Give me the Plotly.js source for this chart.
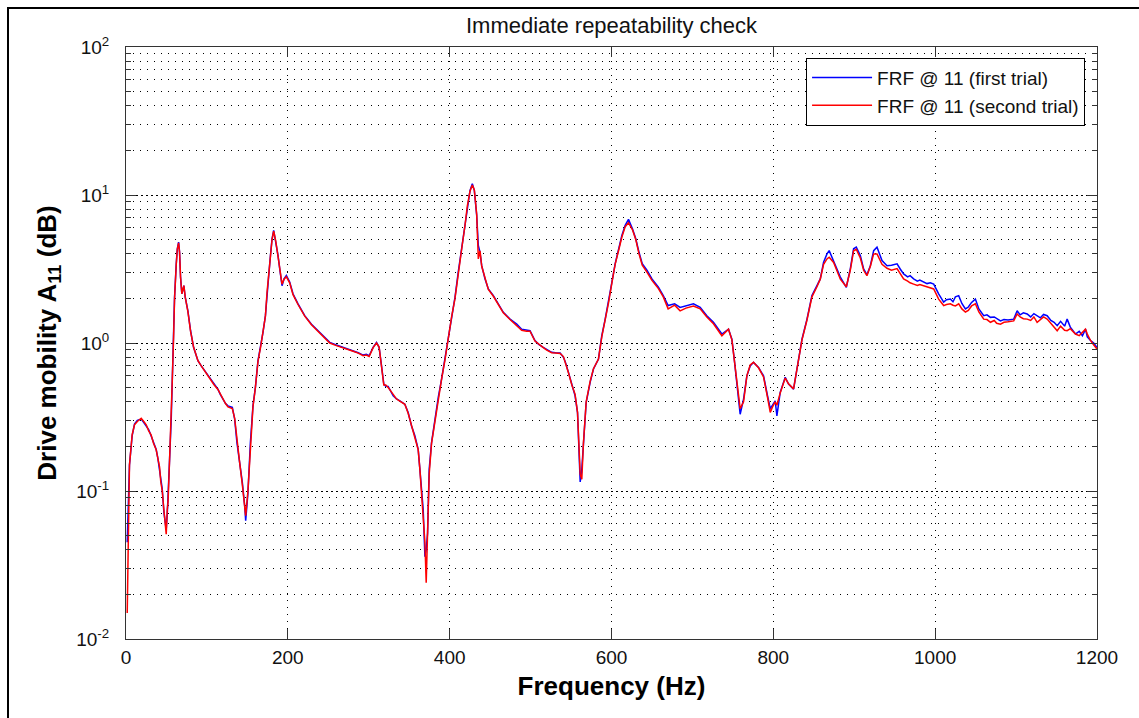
<!DOCTYPE html>
<html>
<head>
<meta charset="utf-8">
<script src="https://cdn.plot.ly/plotly-3.0.1.min.js"></script>
<style>
  html, body { margin: 0; padding: 0; background: #ffffff; }
  #wrap { position: relative; width: 1139px; height: 718px; overflow: hidden; }
  #chart { position: absolute; left: 0; top: 0; width: 1139px; height: 718px; }
  #frame { position: absolute; left: 7px; top: 7px; width: 1200px; height: 800px;
           border-left: 2px solid #000; border-top: 2px solid #000; pointer-events: none; }
</style>
</head>
<body>
<div id="wrap">
  <div id="chart"></div>
  <div id="frame"></div>
</div>
<script>
// Frequency points (Hz) of the measured drive-point FRF
const freqHz = [
  1.5, 4.3, 7.6, 10.5, 14, 18.8, 22, 25, 28, 31, 34, 37.3, 39.5, 41.5, 43, 44.8, 46.8, 48.3, 49.7, 51,
  52, 53.8, 55.9, 57.2, 58.8, 60, 62.1, 63.4, 65, 66.2, 67.4, 69, 71.5, 73.2, 76.5, 79.8, 83.5, 88.9, 93, 97.2,
  101, 105.4, 109, 113.6, 116.5, 119.8, 123, 126, 129, 131.4, 134.3, 137.1, 140.5, 143.8, 146.7, 147.9, 150.7, 153.7, 156.9, 159.9,
  163.1, 166.5, 169.3, 172.3, 174.3, 176.4, 178.5, 180.5, 182.5, 185, 187.9, 190, 192.8, 195.3, 198.2, 202.3, 206.4, 212.6, 220.9, 229.2,
  237.4, 245, 251.8, 260, 268.3, 275, 280.7, 287, 293, 297, 300.5, 305.4, 309.6, 312.8, 315.8, 318.6, 321, 324, 330.2, 334,
  338.4, 344.6, 348.7, 352.9, 357, 361.1, 363.2, 365.3, 367.3, 369.4, 371, 372.7, 374.7, 377.6, 381.8, 385.9, 390, 394.2, 398.3, 402.4,
  406.6, 410.6, 414.8, 418.9, 421.8, 425.1, 428, 430.5, 433.4, 435.4, 437.5, 439.6, 443.7, 447.8, 454, 460.2, 466.3, 474.6, 482.9, 489,
  495, 499.3, 505.4, 510, 515.7, 520, 526, 531, 536.5, 540.6, 543, 546.8, 551, 555, 558, 560, 561.3, 563.3, 565.3, 568.7,
  573.6, 577.7, 583.9, 588, 592.2, 596.3, 600.5, 604.5, 608.7, 612.8, 616.9, 621, 626, 630, 634, 638, 644, 650, 658, 664,
  670, 678, 684.8, 692, 701.3, 709.6, 717.8, 726, 736.4, 744.6, 748.8, 751.7, 755, 759, 763.2, 767.3, 771.4, 775.5, 781.7, 787.9,
  792.8, 796.2, 799, 802.3, 804.4, 808.5, 814.7, 818.8, 825, 829.2, 835.4, 841.6, 847.7, 853.9, 858, 862.1, 866.3, 869, 874.5, 882.8,
  890.2, 895.1, 899.2, 902.5, 907.5, 911.6, 915.7, 919.9, 924, 928.1, 934.3, 940.5, 946, 952.9, 957, 961, 966, 969, 973.4, 978,
  981, 985.8, 990, 994, 998.2, 1004.3, 1010.5, 1014, 1018.8, 1022, 1025, 1029.1, 1033, 1037.4, 1041, 1045, 1049.7, 1054, 1060, 1064,
  1068.3, 1073, 1076, 1080.7, 1085, 1090, 1097.1, 1101.3, 1105, 1109, 1113.7, 1118, 1122, 1126, 1130, 1134, 1138.4, 1143, 1147, 1150.8,
  1155, 1160, 1163.1, 1167, 1173.4, 1178, 1182, 1185.8, 1188, 1192, 1196, 1200
];

// Drive mobility A11, first trial
const firstTrial = [
  0.045, 0.15, 0.236, 0.283, 0.30, 0.306, 0.29, 0.276, 0.26, 0.236, 0.215, 0.191, 0.165, 0.14, 0.12, 0.103, 0.072, 0.06, 0.055, 0.07,
  0.09, 0.16, 0.306, 0.57, 1.09, 2.04, 3.43, 4.33, 4.8, 4.1, 2.79, 2.15, 2.44, 2.04, 1.65, 1.21, 0.935, 0.76, 0.70, 0.65,
  0.60, 0.556, 0.52, 0.488, 0.45, 0.418, 0.39, 0.376, 0.372, 0.367, 0.306, 0.212, 0.155, 0.114, 0.079, 0.063, 0.097, 0.212, 0.376, 0.501,
  0.76, 0.959, 1.18, 1.53, 2.2, 2.86, 3.9, 5.06, 5.76, 4.93, 3.9, 3.17, 2.44, 2.71, 2.86, 2.58, 2.15, 1.84, 1.53, 1.34,
  1.21, 1.1, 1.01, 0.97, 0.935, 0.91, 0.887, 0.86, 0.829, 0.84, 0.82, 0.935, 1.01, 0.935, 0.70, 0.528, 0.51, 0.509, 0.44, 0.42,
  0.407, 0.386, 0.339, 0.275, 0.236, 0.191, 0.14, 0.097, 0.075, 0.036, 0.04, 0.052, 0.14, 0.212, 0.306, 0.429, 0.57, 0.779, 1.12, 1.53,
  2.04, 3.01, 4.33, 6.23, 8.5, 10.7, 11.9, 10.7, 7.3, 4.56, 4.1, 3.33, 2.71, 2.32, 2.09, 1.84, 1.61, 1.45, 1.34, 1.24,
  1.22, 1.21, 1.04, 0.98, 0.935, 0.90, 0.865, 0.86, 0.856, 0.80, 0.74, 0.633, 0.514, 0.44, 0.339, 0.191, 0.115, 0.14, 0.212, 0.396,
  0.542, 0.667, 0.779, 1.12, 1.45, 1.89, 2.58, 3.43, 4.33, 5.32, 6.23, 6.84, 5.9, 5.06, 4.1, 3.43, 3.09, 2.71, 2.38, 2.09,
  1.79, 1.84, 1.74, 1.79, 1.84, 1.74, 1.53, 1.38, 1.15, 1.24, 1.06, 0.779, 0.514, 0.33, 0.418, 0.60, 0.70, 0.74, 0.684, 0.60,
  0.44, 0.36, 0.38, 0.407, 0.322, 0.464, 0.586, 0.528, 0.488, 0.667, 1.06, 1.45, 2.09, 2.44, 2.71, 3.51, 4.0, 4.21, 3.61, 2.79,
  2.38, 3.17, 4.33, 4.44, 3.9, 3.17, 2.89, 3.33, 4.21, 4.44, 3.61, 3.33, 3.35, 3.43, 3.15, 2.93, 2.8, 2.85, 2.71, 2.62,
  2.66, 2.58, 2.52, 2.55, 2.5, 2.15, 1.89, 1.96, 1.98, 1.9, 2.05, 2.09, 1.85, 1.7, 1.75, 1.88, 1.98, 1.7, 1.53, 1.55,
  1.49, 1.5, 1.46, 1.41, 1.44, 1.43, 1.45, 1.65, 1.55, 1.6, 1.57, 1.5, 1.58, 1.53, 1.48, 1.56, 1.53, 1.42, 1.38, 1.31,
  1.4, 1.3, 1.45, 1.28, 1.15, 1.2, 1.12, 1.24, 1.1, 1.04, 1.0, 0.93
];

// Drive mobility A11, second trial
const secondTrial = [
  0.015, 0.15, 0.24, 0.28, 0.295, 0.31, 0.295, 0.28, 0.255, 0.24, 0.21, 0.19, 0.165, 0.145, 0.115, 0.10, 0.075, 0.058, 0.051, 0.075,
  0.085, 0.16, 0.30, 0.56, 1.09, 2.0, 3.4, 4.3, 4.75, 4.1, 2.8, 2.15, 2.44, 2.04, 1.63, 1.2, 0.94, 0.76, 0.70, 0.645,
  0.60, 0.55, 0.52, 0.485, 0.45, 0.415, 0.39, 0.37, 0.365, 0.36, 0.31, 0.215, 0.155, 0.11, 0.08, 0.068, 0.10, 0.21, 0.37, 0.50,
  0.75, 0.95, 1.17, 1.52, 2.2, 2.85, 3.9, 5.0, 5.7, 4.9, 3.85, 3.1, 2.5, 2.7, 2.8, 2.55, 2.12, 1.82, 1.52, 1.33,
  1.2, 1.1, 1.0, 0.96, 0.93, 0.90, 0.88, 0.855, 0.82, 0.83, 0.81, 0.93, 1.0, 0.94, 0.70, 0.52, 0.52, 0.50, 0.45, 0.42,
  0.405, 0.385, 0.335, 0.275, 0.235, 0.19, 0.14, 0.095, 0.07, 0.045, 0.024, 0.05, 0.13, 0.21, 0.30, 0.43, 0.57, 0.77, 1.1, 1.5,
  2.0, 3.0, 4.3, 6.2, 8.4, 10.6, 11.7, 10.8, 7.4, 3.7, 4.2, 3.3, 2.7, 2.3, 2.07, 1.82, 1.6, 1.44, 1.32, 1.22,
  1.2, 1.2, 1.03, 0.98, 0.93, 0.895, 0.86, 0.855, 0.85, 0.81, 0.74, 0.63, 0.52, 0.45, 0.34, 0.19, 0.13, 0.12, 0.21, 0.40,
  0.55, 0.67, 0.78, 1.1, 1.43, 1.87, 2.55, 3.4, 4.2, 5.2, 6.1, 6.5, 5.8, 5.0, 4.0, 3.35, 3.0, 2.65, 2.33, 2.05,
  1.70, 1.80, 1.65, 1.72, 1.78, 1.70, 1.5, 1.35, 1.12, 1.24, 1.05, 0.77, 0.52, 0.36, 0.40, 0.60, 0.71, 0.74, 0.68, 0.59,
  0.43, 0.34, 0.37, 0.40, 0.38, 0.46, 0.58, 0.53, 0.49, 0.66, 1.05, 1.43, 2.05, 2.4, 2.7, 3.4, 3.7, 3.8, 3.5, 2.7,
  2.4, 3.1, 4.2, 4.3, 3.75, 3.1, 2.85, 3.3, 4.0, 4.0, 3.4, 3.2, 3.1, 3.18, 2.95, 2.71, 2.62, 2.55, 2.5, 2.45,
  2.48, 2.44, 2.38, 2.36, 2.32, 1.98, 1.79, 1.82, 1.84, 1.8, 1.78, 1.84, 1.7, 1.62, 1.66, 1.78, 1.84, 1.62, 1.45, 1.44,
  1.38, 1.42, 1.36, 1.34, 1.38, 1.39, 1.41, 1.57, 1.5, 1.46, 1.45, 1.42, 1.5, 1.38, 1.45, 1.5, 1.45, 1.35, 1.28, 1.21,
  1.3, 1.22, 1.21, 1.25, 1.15, 1.12, 1.18, 1.24, 1.15, 1.04, 0.97, 0.91
];

// Axis tick values and labels
const freqTicks = [0, 200, 400, 600, 800, 1000, 1200];
const freqTickText = ['0', '200', '400', '600', '800', '1000', '1200'];
const decadeTicks = [0.01, 0.1, 1, 10, 100];
const decadeTickText = ['10<sup>-2</sup>', '10<sup>-1</sup>', '10<sup>0</sup>', '10<sup>1</sup>', '10<sup>2</sup>'];
const minorMantissas = [2, 3, 4, 5, 6, 7, 8, 9];

const minorTicks = [];
for (const d of [0.01, 0.1, 1, 10]) {
  for (const m of minorMantissas) minorTicks.push(+(m * d).toPrecision(3));
}

const FONT = 'Liberation Sans, Arial, Helvetica, sans-serif';

const traces = [
  {
    x: freqHz, y: firstTrial, type: 'scatter', mode: 'lines',
    name: 'FRF @ 11 (first trial)',
    line: { color: '#0000ff', width: 1.5 }
  },
  {
    x: freqHz, y: secondTrial, type: 'scatter', mode: 'lines',
    name: 'FRF @ 11 (second trial)',
    line: { color: '#ff0000', width: 1.5 }
  }
];

const layout = {
  width: 1139, height: 718,
  paper_bgcolor: '#ffffff', plot_bgcolor: '#ffffff',
  margin: { l: 126, r: 42, t: 47, b: 79, pad: 0 },
  font: { family: FONT, color: '#111', size: 19 },
  title: {
    text: 'Immediate repeatability check',
    font: { family: FONT, size: 22, color: '#111' },
    x: 0.5, xref: 'paper', xanchor: 'center',
    y: 1 - 25 / 718, yref: 'container', yanchor: 'middle'
  },
  showlegend: true,
  legend: {
    x: 0.9877, y: 0.982, xanchor: 'right', yanchor: 'top',
    bgcolor: '#ffffff', bordercolor: '#000', borderwidth: 1,
    font: { family: FONT, size: 19, color: '#111' },
    itemwidth: 60, tracegroupgap: 0
  },
  xaxis: {
    type: 'linear', range: [0, 1200], autorange: false,
    tickmode: 'array', tickvals: freqTicks, ticktext: freqTickText,
    ticks: 'inside', ticklen: 10, tickcolor: '#333', tickwidth: 1,
    showline: true, linecolor: '#333', linewidth: 1, mirror: 'allticks',
    showgrid: true, gridcolor: '#000', gridwidth: 1, griddash: '1px,6px',
    zeroline: false,
    tickfont: { family: FONT, size: 19, color: '#111' },
    ticklabelstandoff: 1,
    title: { text: 'Frequency (Hz)', font: { family: FONT, size: 26, color: '#000', weight: 'bold' }, standoff: 10 }
  },
  yaxis: {
    type: 'log', range: [-2, 2], autorange: false,
    tickmode: 'array', tickvals: decadeTicks, ticktext: decadeTickText,
    ticks: 'inside', ticklen: 10, tickcolor: '#333', tickwidth: 1,
    showline: true, linecolor: '#333', linewidth: 1, mirror: 'allticks',
    showgrid: true, gridcolor: '#000', gridwidth: 1, griddash: '2px,3px',
    zeroline: false,
    tickfont: { family: FONT, size: 19, color: '#111' },
    ticklabelstandoff: 12,
    minor: {
      tickmode: 'array', tickvals: minorTicks,
      ticks: 'inside', ticklen: 5, tickcolor: '#333', tickwidth: 1,
      showgrid: true, gridcolor: '#000', gridwidth: 1, griddash: '1px,6px'
    },
    title: { text: 'Drive mobility A<sub>11</sub> (dB)', font: { family: FONT, size: 26, color: '#000', weight: 'bold' }, standoff: 12 }
  }
};

Plotly.newPlot('chart', traces, layout, { staticPlot: true, displayModeBar: false });
</script>
</body>
</html>
